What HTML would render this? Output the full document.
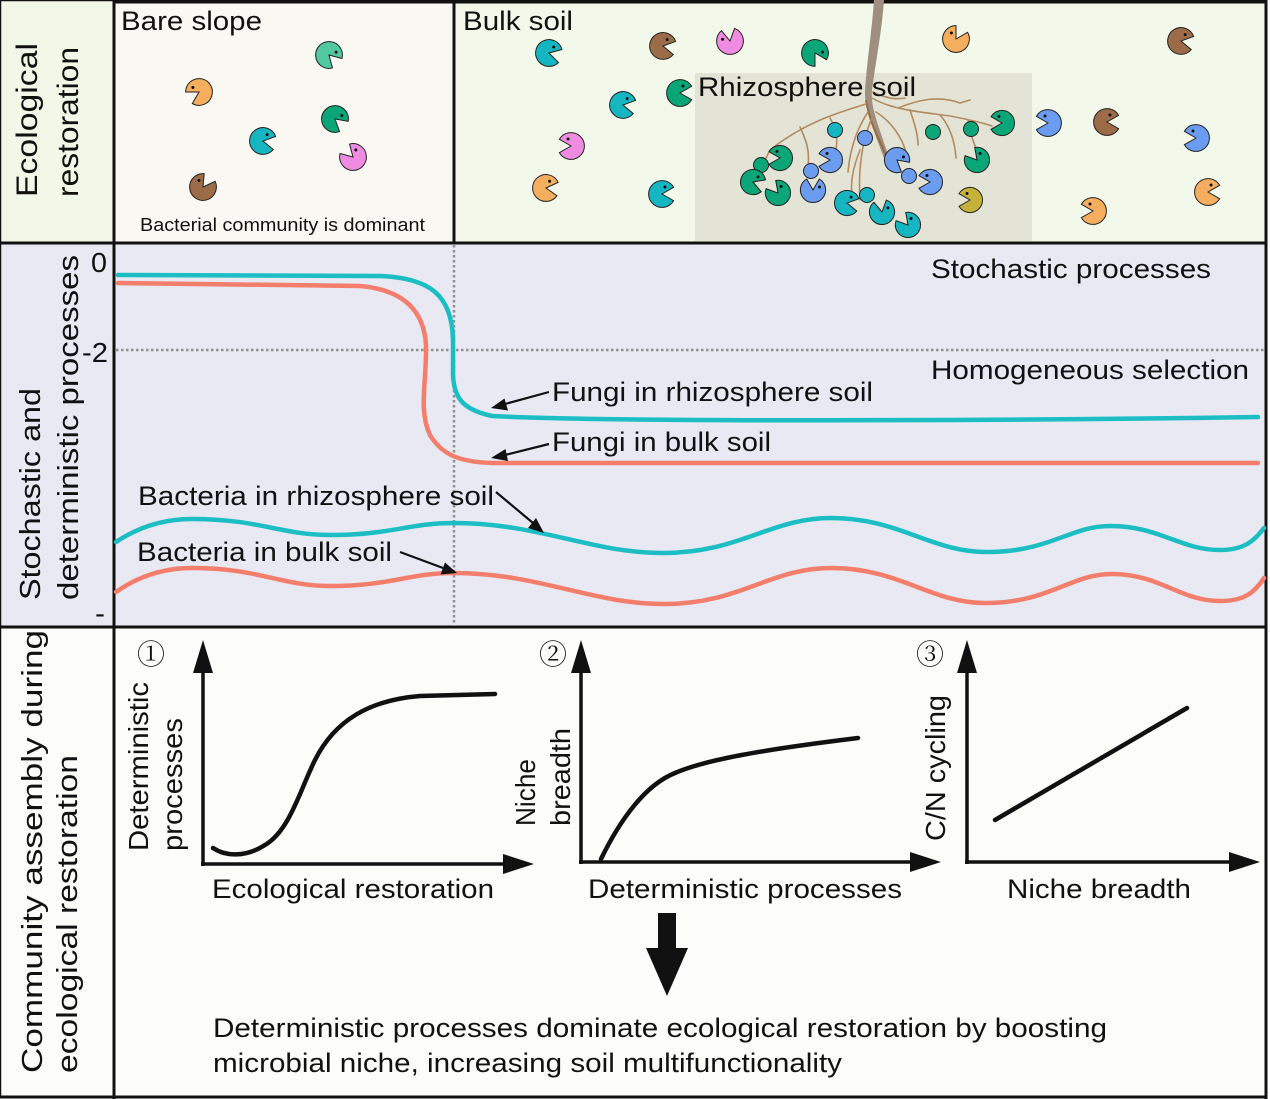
<!DOCTYPE html>
<html><head><meta charset="utf-8"><style>
html,body{margin:0;padding:0;background:#fff;}
svg{display:block;}
text{font-family:"Liberation Sans","Noto Sans CJK SC",sans-serif;fill:#111;}
.c{font-family:"Liberation Serif","Noto Serif CJK SC",serif;}
</style></head><body>
<svg width="1270" height="1099" viewBox="0 0 1270 1099" xmlns="http://www.w3.org/2000/svg">
<defs>
<g id="pac"><path d="M0,0 L11.6,6.7 A13.4,13.4 0 1 1 11.6,-6.7 Z" stroke="#222" stroke-width="1"/><circle cx="3" cy="-7" r="1.5" fill="#111"/></g>
<g id="pacs"><path d="M0,0 L11,6.3 A12.6,12.6 0 1 1 11,-6.3 Z" stroke="#222" stroke-width="1"/><circle cx="3" cy="-6.5" r="1.5" fill="#111"/></g>
</defs>
<!-- backgrounds -->
<rect x="0" y="0" width="1270" height="1099" fill="#ffffff"/>
<rect x="0" y="0" width="114" height="243" fill="#f2f8e8"/>
<rect x="0" y="243" width="114" height="384" fill="#e9e9f4"/>
<rect x="0" y="627" width="114" height="470" fill="#fcfcf8"/>
<rect x="114" y="2" width="340" height="241" fill="#f9f8f3"/>
<rect x="454" y="2" width="812" height="241" fill="#f3f9ea"/>
<rect x="114" y="243" width="1152" height="384" fill="#e9e9f4"/>
<rect x="114" y="627" width="1152" height="470" fill="#fcfcf8"/>
<rect x="695" y="73" width="337" height="168" fill="#e3e4d6"/>

<!-- borders -->
<g stroke="#111" fill="none">
<rect x="0.5" y="0.5" width="1266" height="1097" stroke-width="1.5"/>
<line x1="114" y1="0" x2="114" y2="1099" stroke-width="3"/>
<line x1="114" y1="2" x2="1267" y2="2" stroke-width="3"/>
<line x1="454" y1="0" x2="454" y2="243" stroke-width="3"/>
<line x1="1266" y1="0" x2="1266" y2="1099" stroke-width="3"/>
<line x1="0" y1="243" x2="1267" y2="243" stroke-width="3"/>
<line x1="0" y1="627" x2="1267" y2="627" stroke-width="3"/>
<line x1="0" y1="1097" x2="1267" y2="1097" stroke-width="3"/>
</g>

<!-- left labels -->
<text font-size="30" transform="translate(37,197) rotate(-90)" textLength="154" lengthAdjust="spacingAndGlyphs">Ecological</text>
<text font-size="30" transform="translate(78,197) rotate(-90)" textLength="150" lengthAdjust="spacingAndGlyphs">restoration</text>
<text font-size="29" transform="translate(40,600) rotate(-90)" textLength="212" lengthAdjust="spacingAndGlyphs">Stochastic and</text>
<text font-size="29" transform="translate(78,600) rotate(-90)" textLength="345" lengthAdjust="spacingAndGlyphs">deterministic processes</text>
<text font-size="29" transform="translate(42,1073) rotate(-90)" textLength="443" lengthAdjust="spacingAndGlyphs">Community assembly during</text>
<text font-size="29" transform="translate(77,1073) rotate(-90)" textLength="318" lengthAdjust="spacingAndGlyphs">ecological restoration</text>

<!-- top panel text -->
<text font-size="27" x="121" y="30" textLength="141" lengthAdjust="spacingAndGlyphs">Bare slope</text>
<text font-size="18" x="140" y="231" textLength="285" lengthAdjust="spacingAndGlyphs">Bacterial community is dominant</text>
<text font-size="27" x="463" y="30" textLength="110" lengthAdjust="spacingAndGlyphs">Bulk soil</text>

<!-- bare slope pacmen -->
<use href="#pac" transform="translate(329,55) rotate(45)" fill="#52c9a0"/>
<use href="#pac" transform="translate(199,92) rotate(150) scale(1,-1)" fill="#f5ad5e"/>
<use href="#pac" transform="translate(335,119) rotate(40)" fill="#0aa677"/>
<use href="#pac" transform="translate(263,141) rotate(10)" fill="#15b5c1"/>
<use href="#pac" transform="translate(353,157) rotate(-135) scale(1,-1)" fill="#ef8be0"/>
<use href="#pac" transform="translate(203,187) rotate(-55)" fill="#9c6b48"/>

<!-- bulk soil pacmen -->
<use href="#pac" transform="translate(549,53) rotate(15)" fill="#15b5c1"/>
<use href="#pac" transform="translate(663,46) rotate(10)" fill="#9c6b48"/>
<use href="#pac" transform="translate(730,41) rotate(-100)" fill="#ef8be0"/>
<use href="#pac" transform="translate(815,53) rotate(60)" fill="#0aa677"/>
<use href="#pac" transform="translate(956,39) rotate(-60)" fill="#f5ad5e"/>
<use href="#pac" transform="translate(1181,41) rotate(10)" fill="#9c6b48"/>
<use href="#pac" transform="translate(623,105) rotate(10)" fill="#15b5c1"/>
<use href="#pac" transform="translate(680,93) rotate(0)" fill="#0aa677"/>
<use href="#pac" transform="translate(571,146) rotate(180) scale(1,-1)" fill="#ef8be0"/>
<use href="#pac" transform="translate(546,188) rotate(5)" fill="#f5ad5e"/>
<use href="#pac" transform="translate(662,194) rotate(0)" fill="#15b5c1"/>
<use href="#pac" transform="translate(1048,123) rotate(180) scale(1,-1)" fill="#6b9cf0"/>
<use href="#pac" transform="translate(1107,122) rotate(0)" fill="#9c6b48"/>
<use href="#pac" transform="translate(1196,138) rotate(180) scale(1,-1)" fill="#6b9cf0"/>
<use href="#pac" transform="translate(1208,192) rotate(0)" fill="#f5ad5e"/>
<use href="#pac" transform="translate(1093,211) rotate(180) scale(1,-1)" fill="#f5ad5e"/>

<!-- root -->
<path d="M874,0 L884,0 C882,30 876,60 872,90 C870,105 878,125 890,160 L885,161 C873,128 864,108 865,90 C867,60 872,30 874,0 Z" fill="#a08f80"/>
<path d="M866,100 C870,125 880,140 888,160" stroke="#9a6a3e" stroke-width="2" fill="none"/>
<g stroke="#b48a5e" stroke-width="1.6" fill="none" stroke-linecap="round">
<path d="M866,104 C840,112 805,122 770,150 L764,162"/>
<path d="M800,127 C806,140 810,150 808,166"/>
<path d="M830,118 C836,128 838,138 836,150"/>
<path d="M868,112 C856,130 850,150 848,172"/>
<path d="M872,118 C862,140 858,170 860,200"/>
<path d="M860,150 C854,165 850,180 852,195"/>
<path d="M876,112 C892,122 902,138 906,152"/>
<path d="M872,98 C892,110 922,112 950,116 C966,119 980,122 992,126"/>
<path d="M898,108 C918,100 938,95 960,103 L970,100"/>
<path d="M940,115 C950,126 955,142 956,158"/>
<path d="M968,120 C970,135 976,150 982,160"/>
<path d="M910,110 C915,125 918,135 918,145"/>
<path d="M873,92 C885,98 895,100 905,98"/>
</g>
<text font-size="27" x="698" y="96" textLength="218" lengthAdjust="spacingAndGlyphs">Rhizosphere soil</text>

<!-- rhizosphere microbes -->
<g stroke="#222" stroke-width="1">
<circle cx="835" cy="130" r="7.5" fill="#15b5c1"/>
<circle cx="865" cy="138" r="7.5" fill="#6b9cf0"/>
<circle cx="933" cy="132" r="7.5" fill="#0aa677"/>
<circle cx="971" cy="129" r="7.5" fill="#0aa677"/>
<circle cx="761" cy="165" r="7.5" fill="#0aa677"/>
<circle cx="811" cy="171" r="7.5" fill="#6b9cf0"/>
<circle cx="909" cy="176" r="7.5" fill="#6b9cf0"/>
<circle cx="867" cy="195" r="7.5" fill="#15b5c1"/>
</g>
<use href="#pacs" transform="translate(1002,123) rotate(180) scale(1,-1)" fill="#0aa677"/>
<use href="#pacs" transform="translate(780,158) rotate(180) scale(1,-1)" fill="#0aa677"/>
<use href="#pacs" transform="translate(753,182) rotate(20)" fill="#0aa677"/>
<use href="#pacs" transform="translate(778,193) rotate(-130) scale(1,-1)" fill="#0aa677"/>
<use href="#pacs" transform="translate(830,160) rotate(180) scale(1,-1)" fill="#6b9cf0"/>
<use href="#pacs" transform="translate(813,190) rotate(-90) scale(1,-1)" fill="#6b9cf0"/>
<use href="#pacs" transform="translate(897,160) rotate(40)" fill="#6b9cf0"/>
<use href="#pacs" transform="translate(930,182) rotate(180) scale(1,-1)" fill="#6b9cf0"/>
<use href="#pacs" transform="translate(977,160) rotate(-130) scale(1,-1)" fill="#0aa677"/>
<use href="#pacs" transform="translate(970,200) rotate(180) scale(1,-1)" fill="#c5b23a"/>
<use href="#pacs" transform="translate(847,203) rotate(10)" fill="#15b5c1"/>
<use href="#pacs" transform="translate(882,212) rotate(-100) scale(1,-1)" fill="#15b5c1"/>
<use href="#pacs" transform="translate(908,225) rotate(-130) scale(1,-1)" fill="#15b5c1"/>

<!-- middle panel -->
<g stroke="#8f8f8f" stroke-width="2.5" stroke-dasharray="2.5,2.5" fill="none">
<line x1="116" y1="350" x2="1265" y2="350"/>
<line x1="454" y1="245" x2="454" y2="626"/>
</g>
<text font-size="28" x="91" y="272" textLength="16" lengthAdjust="spacingAndGlyphs">0</text>
<text font-size="28" x="82" y="362" textLength="26" lengthAdjust="spacingAndGlyphs">-2</text>
<text font-size="28" x="95" y="623" textLength="10" lengthAdjust="spacingAndGlyphs">-</text>

<text font-size="27" x="931" y="278" textLength="280" lengthAdjust="spacingAndGlyphs">Stochastic processes</text>
<text font-size="27" x="931" y="379" textLength="318" lengthAdjust="spacingAndGlyphs">Homogeneous selection</text>

<g fill="none" stroke-width="4.5" stroke-linecap="round">
<path d="M118,275 L380,276 C430,278 452,295 453,340 L453,375 C454,400 465,410 492,416 C600,422 1000,421 1258,417" stroke="#1cbec4"/>
<path d="M118,283 L360,286 C405,290 424,312 426,345 C427,380 418,410 430,435 C442,455 460,462 492,463 L1258,463" stroke="#f47e6c"/>
<path d="M116,542 C140,526 165,519 192,519 C260,519 280,535 331,535 C390,535 410,523 453,523 C540,523 590,553 663,553 C740,553 770,518 831,518 C900,518 930,552 987,552 C1050,552 1070,526 1110,526 C1160,526 1180,550 1220,550 C1245,550 1255,540 1264,528" stroke="#1cbec4"/>
<path d="M116,592 C140,575 165,568 192,568 C260,568 280,586 331,586 C390,586 410,573 453,573 C540,573 590,604 665,604 C740,604 770,568 831,568 C900,568 930,603 985,603 C1050,603 1070,574 1112,574 C1160,574 1180,601 1220,601 C1245,601 1255,592 1264,578" stroke="#f47e6c"/>
</g>

<text font-size="27" x="552" y="401" textLength="321" lengthAdjust="spacingAndGlyphs">Fungi in rhizosphere soil</text>
<text font-size="27" x="552" y="451" textLength="219" lengthAdjust="spacingAndGlyphs">Fungi in bulk soil</text>
<text font-size="27" x="138" y="505" textLength="356" lengthAdjust="spacingAndGlyphs">Bacteria in rhizosphere soil</text>
<text font-size="27" x="137" y="561" textLength="255" lengthAdjust="spacingAndGlyphs">Bacteria in bulk soil</text>

<g stroke="#111" stroke-width="2.2">
<line x1="549" y1="392" x2="505" y2="404"/>
<line x1="549" y1="444" x2="505" y2="455"/>
<line x1="496" y1="492" x2="533" y2="523"/>
<line x1="400" y1="552" x2="443" y2="568"/>
</g>
<g fill="#111">
<polygon points="491,408 508,410.5 504.5,398.5"/>
<polygon points="491,458 508,461 505.5,449"/>
<polygon points="544,533 528,528 536,518"/>
<polygon points="457,573 440.5,574.5 445,562.5"/>
</g>

<!-- bottom panel: subplot 1 -->
<text class="c" font-size="28" x="137" y="664">①</text>
<g stroke="#111" stroke-width="3.5" fill="none">
<line x1="203" y1="866" x2="203" y2="668"/>
<line x1="201" y1="864" x2="506" y2="864"/>
<path d="M213,848 C225,856 245,858 265,845 C290,830 300,790 315,760 C335,720 370,700 420,696 L495,694" stroke-width="4.5" stroke-linecap="round"/>
</g>
<polygon points="203,640 193,673 213,673" fill="#111"/>
<polygon points="534,864 503,854 503,874" fill="#111"/>
<text font-size="28" transform="translate(148,851) rotate(-90)" textLength="169" lengthAdjust="spacingAndGlyphs">Deterministic</text>
<text font-size="28" transform="translate(182,851) rotate(-90)" textLength="133" lengthAdjust="spacingAndGlyphs">processes</text>
<text font-size="27" x="212" y="898" textLength="282" lengthAdjust="spacingAndGlyphs">Ecological restoration</text>

<!-- subplot 2 -->
<text class="c" font-size="28" x="539" y="664">②</text>
<g stroke="#111" stroke-width="3.5" fill="none">
<line x1="581" y1="864" x2="581" y2="668"/>
<line x1="579" y1="862" x2="912" y2="862"/>
<path d="M601,859 C620,820 645,785 675,773 C705,760 760,750 858,738" stroke-width="4.5" stroke-linecap="round"/>
</g>
<polygon points="581,640 571,673 591,673" fill="#111"/>
<polygon points="941,862 910,852 910,872" fill="#111"/>
<text font-size="28" transform="translate(535,826) rotate(-90)" textLength="67" lengthAdjust="spacingAndGlyphs">Niche</text>
<text font-size="28" transform="translate(570,826) rotate(-90)" textLength="98" lengthAdjust="spacingAndGlyphs">breadth</text>
<text font-size="27" x="588" y="898" textLength="314" lengthAdjust="spacingAndGlyphs">Deterministic processes</text>

<!-- subplot 3 -->
<text class="c" font-size="28" x="916" y="664">③</text>
<g stroke="#111" stroke-width="3.5" fill="none">
<line x1="967" y1="864" x2="967" y2="668"/>
<line x1="965" y1="862" x2="1230" y2="862"/>
<line x1="995" y1="820" x2="1187" y2="708" stroke-width="4.5" stroke-linecap="round"/>
</g>
<polygon points="967,640 957,673 977,673" fill="#111"/>
<polygon points="1260,862 1229,852 1229,872" fill="#111"/>
<text font-size="28" transform="translate(945,841) rotate(-90)" textLength="146" lengthAdjust="spacingAndGlyphs">C/N cycling</text>
<text font-size="27" x="1007" y="898" textLength="184" lengthAdjust="spacingAndGlyphs">Niche breadth</text>

<!-- big arrow -->
<polygon points="658,913 676,913 676,948 688,948 667,996 646,948 658,948" fill="#111"/>

<text font-size="27" x="213" y="1037" textLength="894" lengthAdjust="spacingAndGlyphs">Deterministic processes dominate ecological restoration by boosting</text>
<text font-size="27" x="213" y="1072" textLength="629" lengthAdjust="spacingAndGlyphs">microbial niche, increasing soil multifunctionality</text>
</svg>
</body></html>
